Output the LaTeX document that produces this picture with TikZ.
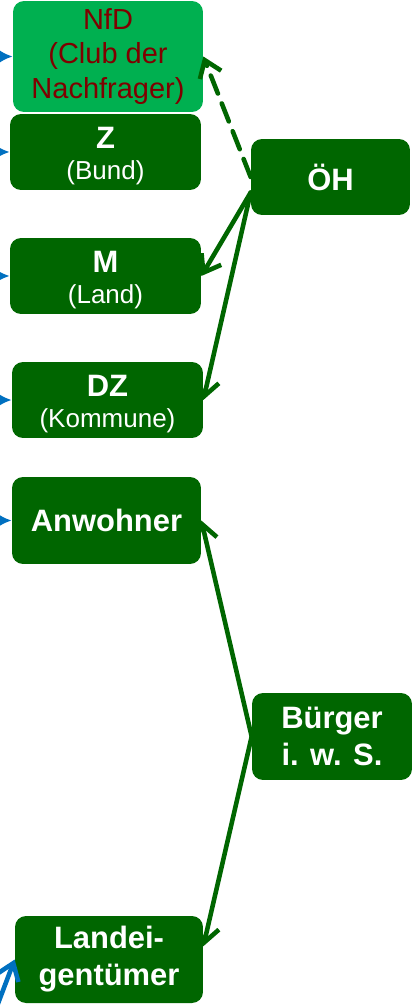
\documentclass[tikz,border=0pt]{standalone}
\usepackage{fontspec}
\setmainfont{Liberation Sans}
\usetikzlibrary{arrows.meta}
\definecolor{darkgreen}{HTML}{006600}
\definecolor{lightgreen}{HTML}{00B050}
\definecolor{clubred}{HTML}{7F0000}
\definecolor{arrowblue}{HTML}{0070C0}
\newcommand{\subline}[1]{{\fontsize{14.8}{18}\selectfont\mdseries #1}}
\newcommand{\toppad}{\rule{0pt}{17pt}}

\begin{document}
\begin{tikzpicture}[x=0.02cm, y=-0.02cm,
  actor/.style={fill=darkgreen, text=white, rounded corners=0.22cm, align=center, inner sep=0pt,
    font=\fontsize{17.6}{21}\selectfont\bfseries},
  club/.style={fill=lightgreen, text=clubred, rounded corners=0.22cm, align=center, inner sep=0pt,
    font=\fontsize{16.5}{19.6}\selectfont},
  relation/.style={-{Straight Barb[length=9pt,width=13pt]}, draw=darkgreen, line width=2.6pt, line cap=round},
  feed/.style={-{Latex[length=8pt,width=8pt]}, draw=arrowblue, line width=2pt}]

\useasboundingbox (0,0) rectangle (412,1006);
\clip (0,0) rectangle (412,1006);

% left column: demanders
\node[club, minimum width=3.8cm, minimum height=2.22cm] (nfd) at (108,56.5) {NfD\\(Club der\\Nachfrager)};
\node[actor, minimum width=3.82cm, minimum height=1.52cm] (z) at (105.5,152) {\toppad Z\\[-3.5pt]\subline{(Bund)}};
\node[actor, minimum width=3.82cm, minimum height=1.52cm] (m) at (105.5,276) {\toppad M\\[-3.5pt]\subline{(Land)}};
\node[actor, minimum width=3.82cm, minimum height=1.52cm] (dz) at (107.5,400) {\toppad DZ\\[-3.5pt]\subline{(Kommune)}};
\node[actor, minimum width=3.78cm, minimum height=1.74cm] (anw) at (106.5,520.5) {Anwohner};
\node[actor, minimum width=3.76cm, minimum height=1.74cm] (land) at (109,959.5) {Landei-\\gentümer};

% right column
\node[actor, minimum width=3.18cm, minimum height=1.52cm] (oh) at (330.5,177) {ÖH};
\node[actor, minimum width=3.2cm, minimum height=1.74cm] (buerger) at (332,736.5) {Bürger\\i. w. S.};

% public sector to its levels
\draw[relation, dash pattern=on 11pt off 6pt] (oh.west) -- (nfd.east);
\draw[relation] (oh.191) -- (m.east);
\draw[relation] (oh.191) -- (dz.east);

% citizens in the wider sense
\draw[relation] (buerger.west) -- (anw.east);
\draw[relation] (buerger.west) -- (land.8);

% incoming arrows from the left
\coordinate (in1) at (-40,56.5);
\coordinate (in2) at (-40,152);
\coordinate (in3) at (-40,276);
\coordinate (in4) at (-40,400);
\coordinate (in5) at (-40,520.5);
\coordinate (in6) at (-12,1030);
\draw[feed] (in1) -- (nfd.west);
\draw[feed] (in2) -- (z.west);
\draw[feed] (in3) -- (m.west);
\draw[feed] (in4) -- (dz.west);
\draw[feed] (in5) -- (anw.west);
\draw[feed, -{Straight Barb[length=9pt,width=13pt]}, line width=2.6pt] (in6) -- (land.west);

\end{tikzpicture}
\end{document}
